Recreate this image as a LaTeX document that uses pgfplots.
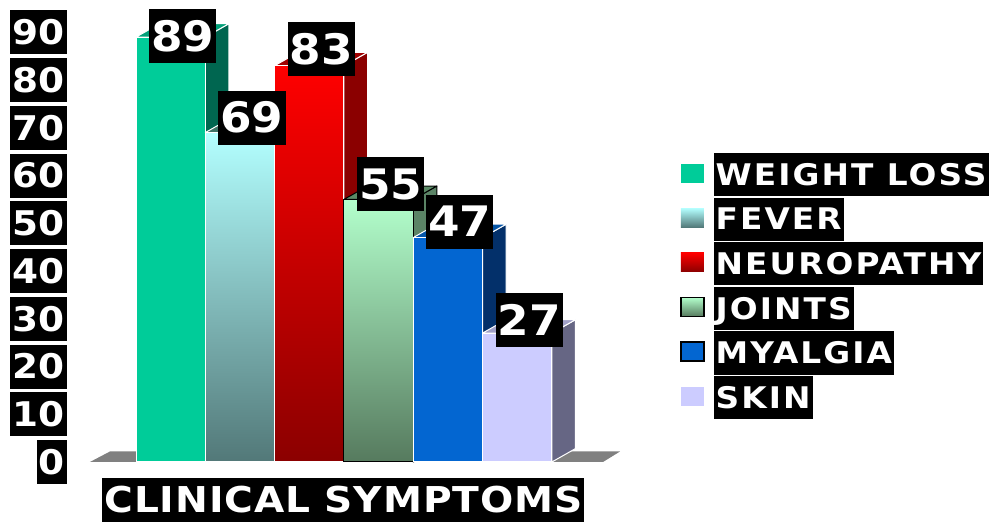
\documentclass[border=0pt]{standalone}
\usepackage{pgfplots}
\pgfplotsset{compat=1.18}
\usepackage{pgfplotstable}
\usepackage{fontspec}
\setmainfont{DejaVu Sans}
\newfontfamily\tickfont[FakeStretch=1.1, LetterSpace=1.5]{DejaVu Sans}
\newfontfamily\valfont[FakeStretch=1.08]{DejaVu Sans}
\newfontfamily\legfont[FakeStretch=1.1, LetterSpace=7]{DejaVu Sans}
\newfontfamily\labfont[FakeStretch=1.1, LetterSpace=2.5]{DejaVu Sans}

\definecolor{wlFront}{HTML}{00CC99}
\definecolor{wlSide}{HTML}{006650}
\definecolor{wlTopF}{HTML}{00A078}
\definecolor{fvTopC}{HTML}{B3FFFF}
\definecolor{fvBot}{HTML}{527878}
\definecolor{fvSide}{HTML}{3D5C5C}
\definecolor{fvTopF}{HTML}{3E7466}
\definecolor{npTopC}{HTML}{FF0000}
\definecolor{npBot}{HTML}{8B0000}
\definecolor{npSide}{HTML}{8B0000}
\definecolor{npTopF}{HTML}{A00000}
\definecolor{jtTopC}{HTML}{B3FFCC}
\definecolor{jtBot}{HTML}{567A5E}
\definecolor{jtSide}{HTML}{5B8466}
\definecolor{jtTopF}{HTML}{5B8A66}
\definecolor{myFront}{HTML}{0366D1}
\definecolor{mySide}{HTML}{03306A}
\definecolor{myTopF}{HTML}{0455A8}
\definecolor{skFront}{HTML}{CCCCFF}
\definecolor{skSide}{HTML}{666684}
\definecolor{skTopF}{HTML}{A0A0C8}
\definecolor{floorC}{HTML}{808080}

\pgfplotstableread{
idx value
0 89
1 69
2 83
3 55
4 47
5 27
}\symptoms

\newcommand\dx{0.34}
\newcommand\dy{2.8}

% side face, top face and front face of one bar, all from the table
\newcommand\barfaces[5]{%
  \pgfplotstablegetelem{#1}{value}\of\symptoms
  \edef\bv{\pgfplotsretval}%
  \pgfmathsetmacro\xa{#1-0.5}%
  \pgfmathsetmacro\xb{#1+0.5}%
  \pgfmathsetmacro\xc{#1+0.5+\dx}%
  \pgfmathsetmacro\xd{#1-0.5+\dx}%
  \pgfmathsetmacro\vt{\bv+\dy}%
  \edef\temp{%
    \noexpand\addplot[forget plot, fill=#2, draw=#4, line width=0.5pt, line join=round]
      coordinates {(\xb,0) (\xc,\dy) (\xc,\vt) (\xb,\bv)} -- cycle;
    \noexpand\addplot[forget plot, fill=#3, draw=#4, line width=0.5pt, line join=round]
      coordinates {(\xa,\bv) (\xb,\bv) (\xc,\vt) (\xd,\vt)} -- cycle;
    \noexpand\addplot[forget plot, ybar, bar width=1, bar shift=0pt, draw=#4, line width=0.5pt, #5]
      coordinates {(#1,\bv)};
  }\temp
}

\newcommand\legbox[1]{{\setlength\fboxsep{1pt}\colorbox{black}{\rule[-4.4pt]{0pt}{19.6pt}\textcolor{white}{#1}}}}

% value label and legend entry of one bar
\newcommand\barlabel[4]{%
  \pgfplotstablegetelem{#1}{value}\of\symptoms
  \edef\temp{\noexpand\addplot[draw=none, mark=none, nodes near coords,
      nodes near coords style={yshift=#2},
      legend image code/.code={\noexpand\path[#3] (0pt,-6pt) rectangle (11.5pt,3.5pt);}]
      coordinates {(#1,\pgfplotsretval)};}%
  \temp
  \addlegendentry{\legbox{#4}}%
}

\begin{document}
\begin{tikzpicture}
\path (0,0) rectangle (501pt,262pt);
\begin{axis}[
  at={(43.75pt,26.225pt)}, anchor=south west,
  scale only axis, width=280.7pt, height=231.575pt,
  xmin=-1.2, xmax=6.9, ymin=-2, ymax=95,
  clip=false,
  axis line style={draw=none},
  tick style={draw=none},
  xtick=\empty,
  ytick={0,10,...,90},
  /pgf/number format/assume math mode=true,
  yticklabel style={font={\tickfont\bfseries\fontsize{17}{17}\selectfont}, fill=black, text=white,
    anchor=east, xshift=-10.25pt, inner xsep=1pt, inner ysep=0pt, minimum height=22pt},
  xlabel={CLINICAL SYMPTOMS},
  xlabel style={at={(axis description cs:0.456,-0.0614)}, anchor=center, fill=black, text=white,
    font={\labfont\bfseries\fontsize{17.8}{18}\selectfont}, inner xsep=1pt, inner ysep=0pt, minimum height=22pt},
  every node near coord/.append style={anchor=center, xshift=6pt, fill=black, text=white,
    font={\valfont\bfseries\fontsize{21}{21}\selectfont}, inner xsep=1pt, inner ysep=0pt, minimum height=27pt},
  legend style={at={(1.0554,0.6880)}, anchor=north west, draw=none, fill=none, inner sep=0pt,
    outer sep=0pt, row sep=4.6pt, column sep=4.5pt, nodes={inner sep=0pt},
    font={\legfont\bfseries\fontsize{14.9}{15}\selectfont}},
  legend cell align=left,
]
% floor
\addplot[forget plot, fill=floorC, draw=none] coordinates {(-1.165,0) (6.238,0) (6.483,2.2) (-0.876,2.2)} -- cycle;

\barfaces{0}{wlSide}{wlTopF}{white}{fill=wlFront}
\barfaces{1}{fvSide}{fvTopF}{white}{top color=fvTopC, bottom color=fvBot}
\barfaces{2}{npSide}{npTopF}{white}{top color=npTopC, bottom color=npBot}
\barfaces{3}{jtSide}{jtTopF}{black}{top color=jtTopC, bottom color=jtBot}
\barfaces{4}{mySide}{myTopF}{white}{fill=myFront}
\barfaces{5}{skSide}{skTopF}{white}{fill=skFront}

\barlabel{0}{0.5pt}{fill=wlFront}{WEIGHT LOSS}
\barlabel{1}{7.5pt}{top color=fvTopC, bottom color=fvBot}{FEVER}
\barlabel{2}{8.5pt}{top color=npTopC, bottom color=npBot}{NEUROPATHY}
\barlabel{3}{7.5pt}{top color=jtTopC, bottom color=jtBot, draw=black, line width=0.8pt}{JOINTS}
\barlabel{4}{8pt}{fill=myFront, draw=black, line width=0.8pt}{MYALGIA}
\barlabel{5}{6.5pt}{fill=skFront}{SKIN}
\end{axis}
\end{tikzpicture}
\end{document}
